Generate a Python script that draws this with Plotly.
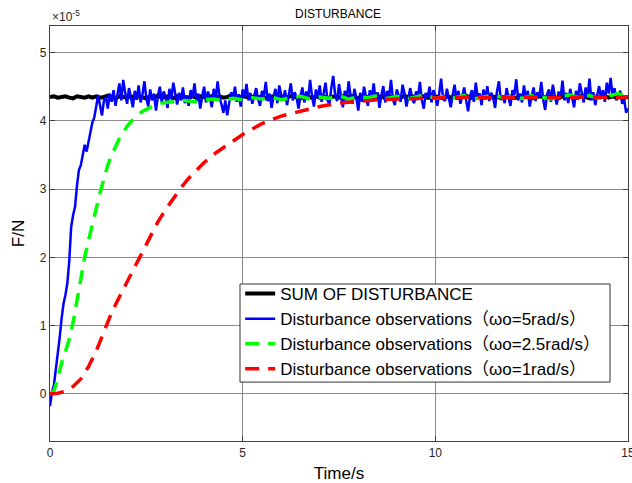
import numpy as np
import plotly.graph_objects as go

# ---------------- data (values in units of 1e-5 N) ----------------
# SUM OF DISTURBANCE, sampled every 0.1 s
t_sum_step = 0.1
sum_vals = [
    4.35,4.36,4.34,4.35,4.36,4.34,4.33,4.36,4.35,4.34,4.36,4.34,4.36,4.34,4.35,4.37,4.34,4.33,4.36,4.35,
    4.34,4.36,4.34,4.36,4.35,4.33,4.36,4.34,4.37,4.34,4.35,4.36,4.33,4.36,4.34,4.35,4.34,4.36,4.34,4.36,
    4.35,4.33,4.36,4.34,4.36,4.34,4.35,4.37,4.34,4.33,4.36,4.35,4.34,4.36,4.34,4.36,4.33,4.35,4.36,4.34,
    4.36,4.34,4.35,4.37,4.34,4.33,4.36,4.35,4.34,4.36,4.34,4.36,4.33,4.35,4.36,4.34,4.36,4.34,4.37,4.35,
    4.33,4.36,4.34,4.36,4.34,4.35,4.36,4.33,4.36,4.34,4.35,4.34,4.37,4.34,4.36,4.33,4.35,4.36,4.34,4.34,
    4.36,4.35,4.33,4.36,4.34,4.36,4.34,4.35,4.37,4.34,4.33,4.36,4.35,4.34,4.36,4.34,4.36,4.33,4.35,4.36,
    4.34,4.34,4.36,4.35,4.37,4.33,4.34,4.36,4.35,4.34,4.36,4.34,4.33,4.36,4.35,4.36,4.34,4.34,4.37,4.35,
    4.33,4.36,4.34,4.35,4.36,4.34,4.36,4.34,4.35,4.34,4.35,
]

# observer wo = 5 rad/s, sampled every 0.05 s
t_w5_step = 0.05
w5_vals = [
    -0.18,0.02,0.12,0.35,0.55,0.82,1.10,1.32,1.45,1.62,1.95,2.45,2.62,2.74,3.05,3.28,3.35,3.50,3.65,3.55,
    3.70,3.85,3.98,4.05,4.20,4.38,4.22,4.08,4.30,
    4.35,4.18,4.40,4.28,4.45,4.22,4.38,4.55,4.30,4.60,4.42,4.25,4.48,4.36,4.20,4.44,4.31,4.52,4.27,4.39,
    4.58,4.33,4.21,4.46,4.30,4.40,4.15,4.36,4.50,4.28,4.43,4.35,4.19,4.47,4.32,4.56,4.38,4.24,4.41,4.30,
    4.49,4.26,4.37,4.22,4.45,4.34,4.55,4.29,4.40,4.18,4.36,4.50,4.27,4.43,4.33,4.20,4.47,4.31,4.58,4.35,
    4.24,4.12,4.30,4.08,4.26,4.42,4.33,4.50,4.28,4.39,4.21,4.46,4.35,4.54,4.30,4.41,4.25,4.37,4.48,4.32,
    4.22,4.44,4.36,4.57,4.29,4.40,4.19,4.35,4.47,4.26,4.52,4.38,4.31,4.45,4.23,4.39,4.55,4.30,4.42,4.34,
    4.18,4.37,4.49,4.27,4.43,4.32,4.60,4.36,4.21,4.46,4.33,4.52,4.28,4.40,4.56,4.31,4.24,4.48,4.66,4.38,
    4.29,4.54,4.35,4.20,4.44,4.30,4.58,4.37,4.25,4.47,4.34,4.15,4.41,4.28,4.50,4.36,4.22,4.45,4.32,4.55,
    4.30,4.42,4.19,4.38,4.51,4.27,4.44,4.35,4.60,4.31,4.23,4.46,4.36,4.28,4.53,4.40,4.21,4.37,4.48,4.32,
    4.26,4.43,4.35,4.57,4.30,4.18,4.41,4.34,4.50,4.27,4.45,4.36,4.22,4.40,4.62,4.33,4.29,4.47,4.35,4.20,
    4.38,4.53,4.31,4.44,4.25,4.37,4.49,4.30,4.14,4.36,4.45,4.28,4.56,4.34,4.40,4.23,4.46,4.32,4.51,4.29,
    4.41,4.35,4.19,4.43,4.58,4.31,4.37,4.26,4.48,4.34,4.22,4.45,4.38,4.61,4.30,4.40,4.27,4.52,4.33,4.44,
    4.21,4.36,4.49,4.29,4.42,4.35,4.57,4.31,4.16,4.39,4.46,4.28,4.53,4.37,4.24,4.43,4.33,4.59,4.30,4.41,
    4.26,4.47,4.35,4.20,4.44,4.32,4.55,4.38,4.27,4.49,4.34,4.62,4.30,4.42,4.23,4.37,4.51,4.33,4.45,4.28,
    4.56,4.40,4.63,4.35,4.48,4.30,4.38,4.44,4.25,4.32,4.12,4.18,
]

# observer wo = 2.5 rad/s
t_w25 = [0, 0.1, 0.2, 0.3, 0.4, 0.5, 0.6, 0.7, 0.8, 0.9, 1.0, 1.1, 1.2, 1.3, 1.4, 1.5, 1.6, 1.8,
         2.0, 2.2, 2.4, 2.6, 2.8,
         3.0, 3.25, 3.5, 3.75, 4.0, 4.25, 4.5, 4.75, 5.0, 5.25, 5.5, 5.75, 6.0, 6.25, 6.5, 6.75,
         7.0, 7.25, 7.5, 7.75, 8.0, 8.25, 8.5, 8.75, 9.0, 9.25, 9.5, 9.75, 10.0, 10.25, 10.5, 10.75,
         11.0, 11.25, 11.5, 11.75, 12.0, 12.25, 12.5, 12.75, 13.0, 13.25, 13.5, 13.75, 14.0, 14.25,
         14.5, 14.75, 15.0]
w25_vals = [0.0, 0.04, 0.22, 0.45, 0.62, 0.80, 1.05, 1.37, 1.70, 2.00, 2.25, 2.50, 2.72, 2.95, 3.15,
            3.35, 3.50, 3.74, 3.92, 4.05, 4.14, 4.20, 4.25,
            4.27, 4.29, 4.30, 4.28, 4.31, 4.32, 4.30, 4.33, 4.31, 4.34, 4.32, 4.35, 4.31, 4.34, 4.36, 4.32,
            4.35, 4.33, 4.37, 4.32, 4.35, 4.34, 4.37, 4.33, 4.36, 4.32, 4.35, 4.38, 4.33, 4.36, 4.34, 4.37,
            4.32, 4.35, 4.38, 4.34, 4.36, 4.33, 4.37, 4.35, 4.32, 4.36, 4.38, 4.34, 4.37, 4.33, 4.36,
            4.40, 4.35]

# observer wo = 1 rad/s
t_w1 = [0, 0.2, 0.4, 0.6, 0.8, 1.0, 1.2, 1.4, 1.6, 1.8, 2.0, 2.2, 2.4, 2.6, 2.8, 3.0, 3.2, 3.4, 3.6,
        3.8, 4.0, 4.3, 4.6, 5.0, 5.5, 6.0, 6.5, 7.0, 7.5, 8.0, 8.5, 9.0, 9.5, 10.0, 10.5, 11.0, 11.5,
        12.0, 12.5, 13.0, 13.5, 14.0, 14.5, 15.0]
w1_vals = [0.0, 0.01, 0.04, 0.11, 0.22, 0.40, 0.63, 0.92, 1.19, 1.42, 1.64, 1.88, 2.09, 2.32, 2.52,
           2.70, 2.87, 3.02, 3.16, 3.28, 3.39, 3.53, 3.65, 3.80, 3.96, 4.07, 4.14, 4.21, 4.26, 4.29,
           4.31, 4.32, 4.33, 4.34, 4.34, 4.35, 4.34, 4.35, 4.35, 4.34, 4.35, 4.35, 4.34, 4.35]

series_names = [
    "SUM OF DISTURBANCE",
    "Disturbance observations（ωo=5rad/s）",
    "Disturbance observations（ωo=2.5rad/s）",
    "Disturbance observations（ωo=1rad/s）",
]
x_ticks = [0, 5, 10, 15]
y_ticks = [0, 1, 2, 3, 4, 5]

t_sum = np.round(np.arange(len(sum_vals)) * t_sum_step, 3)
t_w5 = np.round(np.arange(len(w5_vals)) * t_w5_step, 3)

FONT = "Arial, 'Liberation Sans', 'Noto Sans CJK SC', sans-serif"

fig = go.Figure()
fig.add_trace(go.Scatter(x=t_sum, y=sum_vals, mode="lines", name=series_names[0],
                         legendgroup="a", line=dict(color="#000000", width=4)))
fig.add_trace(go.Scatter(x=t_w5, y=w5_vals, mode="lines", name=series_names[1],
                         legendgroup="b", line=dict(color="#0000FF", width=2.5)))
fig.add_trace(go.Scatter(x=t_w25, y=w25_vals, mode="lines", name=series_names[2],
                         legendgroup="c", line=dict(color="#00FF00", width=3.5, dash="14px,9px")))
fig.add_trace(go.Scatter(x=t_w1, y=w1_vals, mode="lines", name=series_names[3],
                         legendgroup="d", line=dict(color="#FF0000", width=3.5, dash="14px,9px")))

axis_common = dict(
    showline=True, linecolor="#404040", linewidth=1.3, mirror="allticks",
    showgrid=True, gridcolor="#8c8c8c", gridwidth=1, zeroline=False,
    ticks="inside", ticklen=5, tickcolor="#404040",
    tickfont=dict(family=FONT, size=12, color="#262626"),
    ticklabeloverflow="allow",
)

fig.update_layout(
    width=632, height=483,
    margin=dict(l=50, r=4, t=26, b=42),
    plot_bgcolor="white", paper_bgcolor="white",
    font=dict(family=FONT, color="#000000"),
    title=dict(text="DISTURBANCE", x=0.535, xanchor="center", y=1 - 14 / 483, yanchor="middle",
               font=dict(family=FONT, size=12, color="#000000")),
    xaxis=dict(range=[0, 15], tickvals=x_ticks, ticktext=[str(v) for v in x_ticks],
               title=dict(text="Time/s", font=dict(family=FONT, size=17, color="#000000"), standoff=8),
               automargin=False, **axis_common),
    yaxis=dict(range=[-0.69, 5.39], tickvals=y_ticks, ticktext=[str(v) for v in y_ticks],
               title=dict(text="F/N", font=dict(family=FONT, size=17, color="#000000"), standoff=10),
               automargin=False, **axis_common),
    legend=dict(x=0.329, y=0.3976, xanchor="left", yanchor="top",
                bgcolor="rgba(0,0,0,0)", borderwidth=0,
                font=dict(family=FONT, size=17, color="#000000"),
                tracegroupgap=0, itemwidth=30),
    showlegend=True,
)

# legend frame (white box with dark border) drawn behind the legend entries
fig.add_shape(type="rect", xref="paper", yref="paper",
              x0=0.3287, x1=0.9689, y0=0.142, y1=0.3783,
              fillcolor="white", line=dict(color="#333333", width=1), layer="above")

fig.add_annotation(text="×10<sup>-5</sup>", xref="paper", yref="paper", x=0.0, y=1.0,
                   xanchor="left", yanchor="bottom", showarrow=False,
                   font=dict(family=FONT, size=12, color="#262626"))

fig.write_html("out.html")
